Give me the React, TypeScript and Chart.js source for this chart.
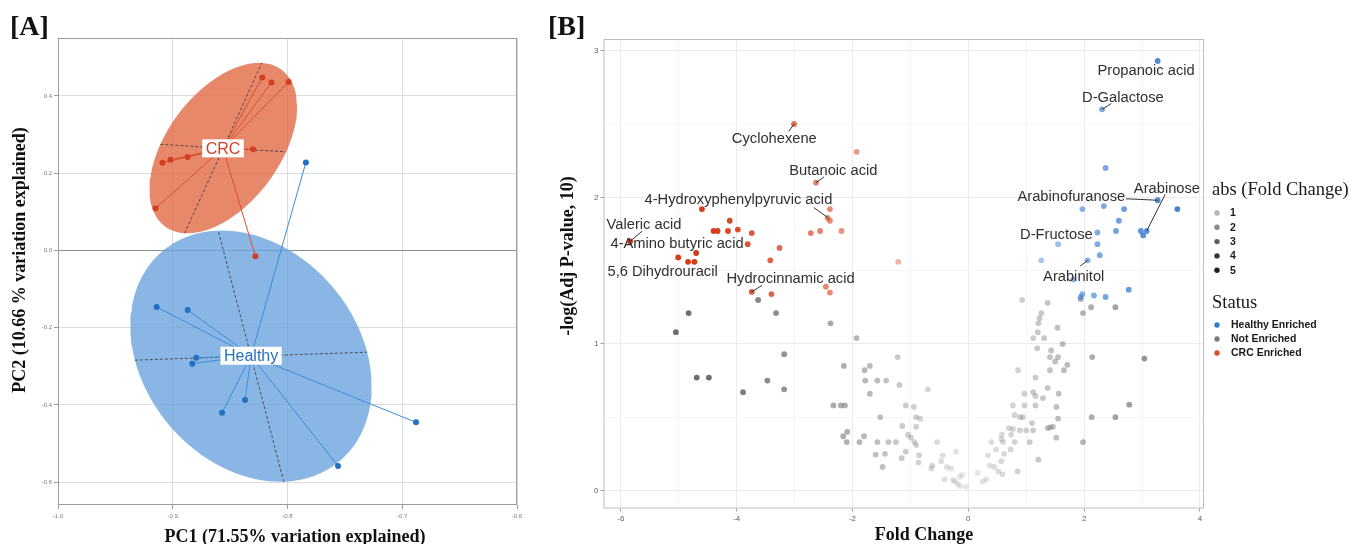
import React, { useEffect, useRef } from 'react';
import { Chart, registerables } from 'chart.js';
Chart.register(...registerables);

const SANS = '"Liberation Sans", Arial, sans-serif';
const SERIF = '"Liberation Serif", "Times New Roman", serif';

// ---------------- Panel A (PCA) data ----------------
const crcPC1 = [-0.822, -0.814, -0.799, -0.830, -0.887, -0.902, -0.909, -0.915, -0.828];
const crcPC2 = [0.448, 0.435, 0.436, 0.262, 0.242, 0.235, 0.227, 0.109, -0.015];
const healthyPC1 = [-0.784, -0.914, -0.887, -0.8795, -0.883, -0.837, -0.857, -0.688, -0.756];
const healthyPC2 = [0.228, -0.1465, -0.154, -0.278, -0.293, -0.387, -0.420, -0.445, -0.558];
const crcEllipseCenter = [-0.856, 0.265];
const crcEllipseAxisA = [0.0336, 0.2204];
const crcEllipseAxisB = [0.0548, -0.0097];
const healthyEllipseCenter = [-0.8318, -0.2737];
const healthyEllipseAxisA = [-0.0286, 0.3249];
const healthyEllipseAxisB = [0.1012, 0.0103];
const pcaTicksX = [-1.0, -0.9, -0.8, -0.7, -0.6];
const pcaTicksY = [-0.6, -0.4, -0.2, 0.0, 0.2, 0.4];
const pcaRangeX = [-1.0, -0.6];
const pcaRangeY = [-0.659, 0.55];

// ---------------- Panel B (volcano) data ----------------
const crcFoldChange = [-3.01, -1.93, -2.63, -4.60, -2.39, -2.43, -2.39, -4.12, -4.40, -4.33, -4.15, -3.98, -3.74, -2.72, -2.56, -2.19, -5.84, -3.81, -4.70, -3.26, -5.01, -4.84, -4.73, -3.42, -1.21, -3.74, -3.40, -2.46, -2.39];
const crcNegLogP = [2.50, 2.31, 2.10, 1.92, 1.92, 1.86, 1.84, 1.84, 1.77, 1.77, 1.77, 1.78, 1.756, 1.756, 1.77, 1.77, 1.70, 1.68, 1.62, 1.655, 1.59, 1.56, 1.56, 1.57, 1.56, 1.355, 1.34, 1.39, 1.35];

const healthyFoldChange = [3.27, 2.31, 2.37, 3.27, 1.97, 2.34, 2.69, 3.61, 2.60, 2.55, 2.23, 2.98, 3.08, 3.02, 2.23, 1.55, 2.27, 2.06, 1.26, 1.81, 1.97, 1.94, 2.17, 2.37, 2.77];
const healthyNegLogP = [2.93, 2.60, 2.20, 1.98, 1.92, 1.94, 1.92, 1.92, 1.84, 1.77, 1.76, 1.77, 1.77, 1.74, 1.68, 1.68, 1.605, 1.57, 1.57, 1.44, 1.34, 1.32, 1.33, 1.32, 1.37];

const notFoldChange = [
  -3.63, -4.83, -3.32, -5.05, -2.38, -1.93, -3.18, -4.69, -4.48, -3.47, -3.18, -3.89,
  -2.15, -1.79, -1.70, -1.78, -1.57, -1.42, -1.70, -1.22, -1.19, -0.70,
  -2.33, -2.20, -2.13, -1.52, -1.08, -0.94, -0.90, -0.83, -1.14, -0.90,
  -2.09, -2.16, -2.10, -1.88, -1.80, -1.57, -1.38, -1.25, -1.04, -0.99, -0.93, -0.90, -0.54,
  -1.60, -1.44, -1.15, -1.08, -0.85, -0.86, -1.48, -0.64, -0.62, -0.44, -0.21, -0.47, -0.37, -0.30,
  -0.41, -0.27, -0.23, -0.15, -0.10, -0.18, -0.14, -0.04,
  0.16, 0.25, 0.31, 0.34, 0.40, 0.37, 0.45, 0.48, 0.52, 0.59, 0.57, 0.62, 0.73, 0.85,
  0.58, 0.57, 0.60, 0.74, 0.80, 0.70, 0.77, 0.89, 1.00, 1.12, 1.06, 1.21, 1.10,
  0.80, 0.89, 0.94, 0.77, 0.97, 1.16, 0.97, 1.12, 1.16, 1.29, 1.37, 1.16, 0.86,
  1.41, 1.65, 1.71, 1.50, 1.41, 1.55, 1.43, 1.19, 1.63, 1.12, 1.31, 1.20, 1.54,
  1.21, 1.23, 1.26, 1.37, 0.93, 1.37, 1.41, 1.46, 1.52, 1.55, 1.52, 1.56,
  1.98, 2.13, 2.54, 2.78, 2.14, 3.04, 1.94, 2.12, 1.98, 2.54
];
const notNegLogP = [
  1.30, 1.21, 1.21, 1.08, 1.14, 1.04, 0.93, 0.77, 0.77, 0.75, 0.69, 0.67,
  0.85, 0.82, 0.85, 0.75, 0.75, 0.75, 0.66, 0.91, 0.72, 0.69,
  0.58, 0.58, 0.58, 0.50, 0.58, 0.57, 0.50, 0.49, 0.44, 0.435,
  0.40, 0.37, 0.33, 0.33, 0.37, 0.33, 0.33, 0.33, 0.38, 0.36, 0.33, 0.31, 0.33,
  0.245, 0.25, 0.22, 0.265, 0.24, 0.19, 0.16, 0.15, 0.17, 0.24, 0.265, 0.20, 0.16, 0.15,
  0.076, 0.072, 0.06, 0.094, 0.106, 0.044, 0.03, 0.026,
  0.12, 0.06, 0.076, 0.24, 0.33, 0.17, 0.16, 0.28, 0.13, 0.11, 0.20, 0.25, 0.28, 0.13,
  0.38, 0.35, 0.33, 0.38, 0.33, 0.425, 0.42, 0.41, 0.41, 0.41, 0.33, 0.21, 0.46,
  0.515, 0.50, 0.50, 0.58, 0.58, 0.58, 0.66, 0.67, 0.645, 0.63, 0.70, 0.77, 0.82,
  0.82, 0.82, 0.857, 0.88, 0.91, 0.91, 0.955, 0.97, 1.00, 1.04, 1.04, 1.08, 1.11,
  1.14, 1.175, 1.21, 1.28, 1.30, 0.425, 0.43, 0.435, 0.36, 0.49, 0.57, 0.66,
  0.33, 0.50, 0.50, 0.585, 0.91, 0.90, 1.305, 1.25, 1.21, 1.25
];

const labelNames = ['Propanoic acid', 'D-Galactose', 'Cyclohexene', 'Butanoic acid', '4-Hydroxyphenylpyruvic acid', 'Valeric acid', '4-Amino butyric acid', '5,6 Dihydrouracil', 'Hydrocinnamic acid', 'Arabinose', 'Arabinofuranose', 'D-Fructose', 'Arabinitol'];
const labelX = [3.07, 2.67, -3.35, -2.33, -3.97, -5.60, -5.03, -5.28, -3.07, 3.43, 1.78, 1.52, 1.82];
const labelY = [2.86, 2.68, 2.40, 2.18, 1.98, 1.81, 1.68, 1.49, 1.44, 2.06, 2.00, 1.74, 1.46];

const leaderStartX = [-3.10, -2.49, -2.67, -5.63, -3.56, 2.47, 2.72, 3.40, 1.93];
const leaderStartY = [2.45, 2.14, 1.93, 1.77, 1.40, 2.64, 1.99, 2.02, 1.53];
const leaderEndX = [-3.01, -2.63, -2.42, -5.84, -3.74, 2.31, 3.27, 3.08, 2.06];
const leaderEndY = [2.50, 2.10, 1.86, 1.70, 1.355, 2.60, 1.98, 1.77, 1.57];

const volcanoMajorX = [-6, -4, -2, 0, 2, 4];
const volcanoMinorX = [-5, -3, -1, 1, 3];
const volcanoMajorY = [0, 1, 2, 3];
const volcanoMinorY = [0.5, 1.5, 2.5];
const volcanoRangeX = [-6.3, 4.07];
const volcanoRangeY = [-0.123, 3.08];

const legendAbsValues = [1, 2, 3, 4, 5];
const statusNames = ['Healthy Enriched', 'Not Enriched', 'CRC Enriched'];

// ---------------- styles ----------------
const RED = [214, 58, 22];
const BLUE = [28, 108, 202];
const GREY = [110, 110, 110];
const statusColors = [BLUE, GREY, RED];
const rgba = (c: number[], a: number) => `rgba(${c[0]},${c[1]},${c[2]},${a})`;
const fcAlpha = (fc: number) => 0.15 + 0.85 * Math.min(1, Math.abs(fc) / 4.5);

function ellipseOutline(c: number[], a: number[], b: number[]) {
  const pts: { x: number; y: number }[] = [];
  const n = 160;
  for (let i = 0; i <= n; i++) {
    const t = (i / n) * Math.PI * 2;
    pts.push({ x: c[0] + a[0] * Math.cos(t) + b[0] * Math.sin(t), y: c[1] + a[1] * Math.cos(t) + b[1] * Math.sin(t) });
  }
  return pts;
}
const mean = (v: number[]) => v.reduce((s, x) => s + x, 0) / v.length;

function buildPcaConfig(): any {
  const crcC = { x: mean(crcPC1), y: mean(crcPC2) };
  const hC = { x: mean(healthyPC1), y: mean(healthyPC2) };
  const datasets: any[] = [];
  datasets.push({ type: 'scatter', data: crcPC1.map((x, i) => ({ x, y: crcPC2[i] })), pointRadius: 3, pointBackgroundColor: 'rgb(214,62,32)', pointBorderWidth: 0, order: 0 });
  datasets.push({ type: 'scatter', data: healthyPC1.map((x, i) => ({ x, y: healthyPC2[i] })), pointRadius: 3, pointBackgroundColor: 'rgb(34,112,196)', pointBorderWidth: 0, order: 0 });
  crcPC1.forEach((x, i) => datasets.push({ type: 'line', data: [crcC, { x, y: crcPC2[i] }], borderColor: 'rgb(218,78,48)', borderWidth: 1, pointRadius: 0, fill: false, order: 1 }));
  healthyPC1.forEach((x, i) => datasets.push({ type: 'line', data: [hC, { x, y: healthyPC2[i] }], borderColor: 'rgb(62,140,212)', borderWidth: 1, pointRadius: 0, fill: false, order: 1 }));
  const axisLine = (c: number[], v: number[]) => ({ type: 'line', data: [{ x: c[0] - v[0], y: c[1] - v[1] }, { x: c[0] + v[0], y: c[1] + v[1] }], borderColor: 'rgba(60,60,60,0.85)', borderWidth: 1, borderDash: [3, 2], pointRadius: 0, fill: false, order: 2 });
  datasets.push(axisLine(crcEllipseCenter, crcEllipseAxisA));
  datasets.push(axisLine(crcEllipseCenter, crcEllipseAxisB));
  datasets.push(axisLine(healthyEllipseCenter, healthyEllipseAxisA));
  datasets.push(axisLine(healthyEllipseCenter, healthyEllipseAxisB));
  datasets.push({ type: 'line', data: ellipseOutline(crcEllipseCenter, crcEllipseAxisA, crcEllipseAxisB), borderWidth: 0, borderColor: 'rgba(0,0,0,0)', backgroundColor: 'rgba(226,112,76,0.83)', pointRadius: 0, fill: 'shape', tension: 0, order: 3 });
  datasets.push({ type: 'line', data: ellipseOutline(healthyEllipseCenter, healthyEllipseAxisA, healthyEllipseAxisB), borderWidth: 0, borderColor: 'rgba(0,0,0,0)', backgroundColor: 'rgba(108,164,222,0.80)', pointRadius: 0, fill: 'shape', tension: 0, order: 3 });

  const decor = {
    id: 'pcaDecor',
    afterDatasetsDraw(chart: any) {
      const { ctx, chartArea: a, scales } = chart;
      const xs = scales.x, ys = scales.y;
      ctx.save();
      ctx.strokeStyle = '#9c9c9c';
      ctx.lineWidth = 1;
      ctx.strokeRect(a.left + 0.5, a.top + 0.5, a.right - a.left - 1, a.bottom - a.top - 1);
      const tag = (text: string, c: { x: number; y: number }, color: string) => {
        ctx.font = `16px ${SANS}`;
        const w = ctx.measureText(text).width + 7;
        const h = 18;
        const px = xs.getPixelForValue(c.x), py = ys.getPixelForValue(c.y);
        ctx.fillStyle = '#ffffff';
        ctx.fillRect(px - w / 2, py - h / 2, w, h);
        ctx.fillStyle = color;
        ctx.textAlign = 'center';
        ctx.textBaseline = 'middle';
        ctx.fillText(text, px, py + 1);
      };
      tag('CRC', crcC, 'rgb(212,62,36)');
      tag('Healthy', hC, 'rgb(38,112,192)');
      // titles
      ctx.fillStyle = '#111';
      ctx.font = `bold 18px ${SERIF}`;
      ctx.textAlign = 'center';
      ctx.textBaseline = 'middle';
      ctx.fillText('PC1 (71.55% variation explained)', 295, 537);
      ctx.save();
      ctx.translate(20, 260);
      ctx.rotate(-Math.PI / 2);
      ctx.fillText('PC2 (10.66 % variation explained)', 0, 0);
      ctx.restore();
      ctx.font = `bold 28px ${SERIF}`;
      ctx.textAlign = 'left';
      ctx.fillText('[A]', 10, 28);
      ctx.restore();
    },
  };

  return {
    type: 'scatter',
    data: { datasets },
    plugins: [decor],
    options: {
      animation: false,
      responsive: false,
      devicePixelRatio: 1,
      layout: { padding: { left: 0, right: 23, top: 38, bottom: 0 } },
      plugins: { legend: { display: false }, tooltip: { enabled: false } },
      scales: {
        x: {
          type: 'linear', min: pcaRangeX[0], max: pcaRangeX[1],
          afterBuildTicks: (s: any) => { s.ticks = pcaTicksX.map((v) => ({ value: v })); },
          afterFit: (s: any) => { s.height = 39; },
          ticks: { autoSkip: false, maxRotation: 0, padding: 4, color: '#7a7a7a', font: { size: 6, family: SANS }, callback: (v: any) => Number(v).toFixed(1) },
          grid: { color: '#dcdcdc', lineWidth: 1, tickLength: 4, tickColor: '#9c9c9c' },
          border: { display: false },
        },
        y: {
          type: 'linear', min: pcaRangeY[0], max: pcaRangeY[1],
          afterBuildTicks: (s: any) => { s.ticks = pcaTicksY.map((v) => ({ value: v })); },
          afterFit: (s: any) => { s.width = 58; },
          ticks: { autoSkip: false, padding: 2, color: '#7a7a7a', font: { size: 6, family: SANS }, callback: (v: any) => Number(v).toFixed(1) },
          grid: { color: (c: any) => (c.tick && Math.abs(c.tick.value) < 1e-9 ? '#8c8c8c' : '#dcdcdc'), lineWidth: 1, tickLength: 4, tickColor: '#9c9c9c' },
          border: { display: false },
        },
      },
    },
  };
}

function buildVolcanoConfig(): any {
  const pointColor = (base: number[]) => (c: any) => rgba(base, fcAlpha(c.raw ? c.raw.x : 0));
  const datasets: any[] = [];
  leaderStartX.forEach((x, i) => datasets.push({ type: 'line', data: [{ x, y: leaderStartY[i] }, { x: leaderEndX[i], y: leaderEndY[i] }], borderColor: '#333', borderWidth: 1, pointRadius: 0, fill: false, order: 0 }));
  datasets.push({ type: 'scatter', data: crcFoldChange.map((x, i) => ({ x, y: crcNegLogP[i] })), pointRadius: 2.9, pointBorderWidth: 0, pointBackgroundColor: pointColor(RED), order: 1 });
  datasets.push({ type: 'scatter', data: healthyFoldChange.map((x, i) => ({ x, y: healthyNegLogP[i] })), pointRadius: 2.9, pointBorderWidth: 0, pointBackgroundColor: pointColor(BLUE), order: 2 });
  datasets.push({ type: 'scatter', data: notFoldChange.map((x, i) => ({ x, y: notNegLogP[i] })), pointRadius: 2.9, pointBorderWidth: 0, pointBackgroundColor: pointColor(GREY), order: 3 });

  const decor = {
    id: 'volcanoDecor',
    afterDatasetsDraw(chart: any) {
      const { ctx, chartArea: a, scales } = chart;
      const xs = scales.x, ys = scales.y;
      ctx.save();
      ctx.strokeStyle = '#bdbdbd';
      ctx.lineWidth = 1;
      ctx.strokeRect(a.left + 0.5, a.top + 0.5, a.right - a.left - 1, a.bottom - a.top - 1);
      ctx.font = `14.7px ${SANS}`;
      ctx.fillStyle = '#303030';
      ctx.textAlign = 'center';
      ctx.textBaseline = 'middle';
      labelNames.forEach((n, i) => ctx.fillText(n, xs.getPixelForValue(labelX[i]), ys.getPixelForValue(labelY[i])));
      // titles
      ctx.fillStyle = '#111';
      ctx.font = `bold 18px ${SERIF}`;
      ctx.fillText('Fold Change', 384, 535);
      ctx.save();
      ctx.translate(28, 256);
      ctx.rotate(-Math.PI / 2);
      ctx.fillText('-log(Adj P-value, 10)', 0, 0);
      ctx.restore();
      ctx.font = `bold 28px ${SERIF}`;
      ctx.textAlign = 'left';
      ctx.fillText('[B]', 8, 28);
      // legend
      ctx.fillStyle = '#1a1a1a';
      ctx.font = `18.5px ${SERIF}`;
      ctx.fillText('abs (Fold Change)', 672, 190);
      legendAbsValues.forEach((v, i) => {
        const yy = 213 + i * 14.3;
        ctx.fillStyle = `rgba(0,0,0,${(fcAlpha(v) * 0.88).toFixed(3)})`;
        ctx.beginPath();
        ctx.arc(677, yy, 2.7, 0, Math.PI * 2);
        ctx.fill();
        ctx.fillStyle = '#1a1a1a';
        ctx.font = `bold 10.5px ${SANS}`;
        ctx.fillText(String(v), 690, yy + 0.5);
      });
      ctx.font = `18.5px ${SERIF}`;
      ctx.fillText('Status', 672, 303);
      statusNames.forEach((s, i) => {
        const yy = 325 + i * 14;
        ctx.fillStyle = rgba(statusColors[i], 0.9);
        ctx.beginPath();
        ctx.arc(677, yy, 2.7, 0, Math.PI * 2);
        ctx.fill();
        ctx.fillStyle = '#1a1a1a';
        ctx.font = `bold 10.5px ${SANS}`;
        ctx.fillText(s, 691, yy + 0.5);
      });
      ctx.restore();
    },
  };

  return {
    type: 'scatter',
    data: { datasets },
    plugins: [decor],
    options: {
      animation: false,
      responsive: false,
      devicePixelRatio: 1,
      layout: { padding: { left: 0, right: 149, top: 39, bottom: 0 } },
      plugins: { legend: { display: false }, tooltip: { enabled: false } },
      scales: {
        x: {
          type: 'linear', min: volcanoRangeX[0], max: volcanoRangeX[1],
          afterBuildTicks: (s: any) => { s.ticks = [...volcanoMajorX, ...volcanoMinorX].sort((p, q) => p - q).map((v) => ({ value: v })); },
          afterFit: (s: any) => { s.height = 35.5; },
          ticks: { autoSkip: false, maxRotation: 0, padding: 2, color: '#606060', font: { size: 8, family: SANS }, callback: (v: any) => (volcanoMajorX.includes(Number(v)) ? String(v) : '') },
          grid: {
            color: (c: any) => (c.tick && volcanoMajorX.includes(c.tick.value) ? '#ebebeb' : '#f5f5f5'),
            tickColor: (c: any) => (c.tick && volcanoMajorX.includes(c.tick.value) ? '#9a9a9a' : 'rgba(0,0,0,0)'),
            lineWidth: 1, tickLength: 3,
          },
          border: { display: false },
        },
        y: {
          type: 'linear', min: volcanoRangeY[0], max: volcanoRangeY[1],
          afterBuildTicks: (s: any) => { s.ticks = [...volcanoMajorY, ...volcanoMinorY].sort((p, q) => p - q).map((v) => ({ value: v })); },
          afterFit: (s: any) => { s.width = 63.5; },
          ticks: { autoSkip: false, padding: 2, color: '#606060', font: { size: 8, family: SANS }, callback: (v: any) => (volcanoMajorY.includes(Number(v)) ? String(v) : '') },
          grid: {
            color: (c: any) => (c.tick && volcanoMajorY.includes(c.tick.value) ? '#ebebeb' : '#f5f5f5'),
            tickColor: (c: any) => (c.tick && volcanoMajorY.includes(c.tick.value) ? '#9a9a9a' : 'rgba(0,0,0,0)'),
            lineWidth: 1, tickLength: 3,
          },
          border: { display: false },
        },
      },
    },
  };
}

export default function App() {
  const aRef = useRef<HTMLCanvasElement>(null);
  const bRef = useRef<HTMLCanvasElement>(null);
  useEffect(() => {
    const ca = new Chart(aRef.current as HTMLCanvasElement, buildPcaConfig());
    const cb = new Chart(bRef.current as HTMLCanvasElement, buildVolcanoConfig());
    return () => {
      ca.destroy();
      cb.destroy();
    };
  }, []);
  return (
    <div style={{ position: 'absolute', left: 0, top: 0, width: 1353, height: 544, background: '#ffffff', overflow: 'hidden' }}>
      <canvas ref={aRef} width={540} height={544} style={{ position: 'absolute', left: 0, top: 0, width: 540, height: 544 }} />
      <canvas ref={bRef} width={813} height={544} style={{ position: 'absolute', left: 540, top: 0, width: 813, height: 544 }} />
    </div>
  );
}
